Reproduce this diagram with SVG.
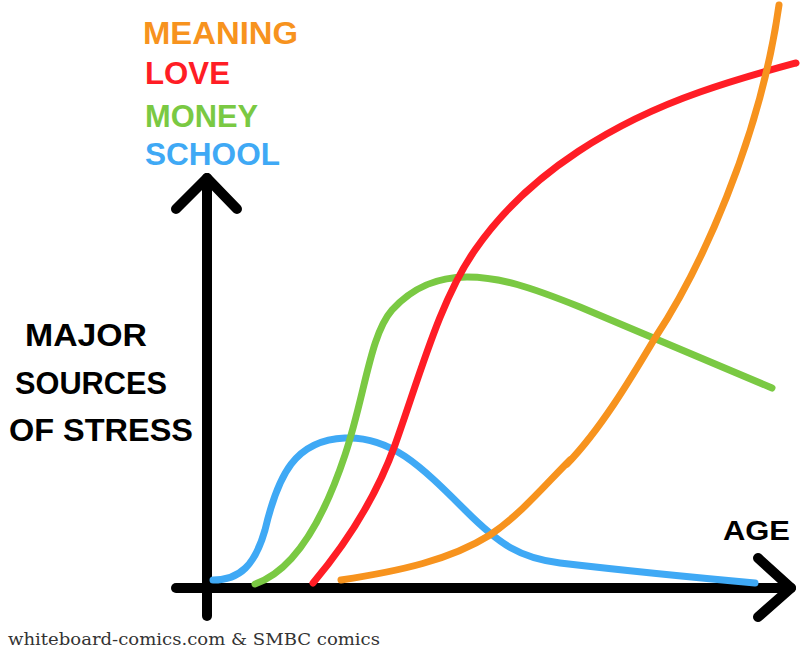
<svg xmlns="http://www.w3.org/2000/svg" width="800" height="653" viewBox="0 0 800 653">
<style>
.ax{fill:none;stroke:#000;stroke-width:10;stroke-linecap:round;stroke-linejoin:round}
.cv{fill:none;stroke-width:7;stroke-linecap:round;stroke-linejoin:round}
.hand{font-family:"Liberation Sans",Arial,sans-serif;font-weight:bold}
.foot{font-family:"DejaVu Serif","Liberation Serif",serif;font-size:17px;fill:#333}
</style>
<rect width="800" height="653" fill="#fff"/>
<g id="legend" class="hand" font-size="31">
<text x="143" y="44" fill="#F7931E" textLength="155" lengthAdjust="spacingAndGlyphs">MEANING</text>
<text x="145" y="84" fill="#FF1D25" textLength="85" lengthAdjust="spacingAndGlyphs">LOVE</text>
<text x="145" y="127" fill="#7AC943" textLength="113" lengthAdjust="spacingAndGlyphs">MONEY</text>
<text x="145" y="165" fill="#3FA9F5" textLength="135" lengthAdjust="spacingAndGlyphs">SCHOOL</text>
</g>
<g id="ylabel" class="hand" font-size="31" fill="#000">
<text x="25" y="346" textLength="122" lengthAdjust="spacingAndGlyphs">MAJOR</text>
<text x="15" y="394" textLength="152" lengthAdjust="spacingAndGlyphs">SOURCES</text>
<text x="9" y="441" textLength="184" lengthAdjust="spacingAndGlyphs">OF STRESS</text>
</g>
<g id="xlabel" class="hand" font-size="28" fill="#000">
<text x="723" y="540" textLength="67" lengthAdjust="spacingAndGlyphs">AGE</text>
</g>
<g id="axes">
<path class="ax" d="M207,178 L207,616"/>
<path class="ax" d="M176,209 L207,178 L237,209"/>
<path class="ax" d="M176,588 L791,588"/>
<path class="ax" d="M758,558 L791,588 L758,617"/>
</g>
<g id="curves">
<path id="school" class="cv" stroke="#3FA9F5" d="M213,580 C240,580 255,565 265,530 C278,475 295,440 345,438 C390,436 420,465 465,510 C500,545 520,558 560,563 C620,570 700,578 755,583"/>
<path id="money" class="cv" stroke="#7AC943" d="M255,584 C290,572 320,530 345,455 C365,395 370,335 392,310 C415,285 440,277 467,277 C500,277 530,287 580,307 L772,388"/>
<path id="love" class="cv" stroke="#FF1D25" d="M313,583 C345,545 375,500 395,445 C420,375 440,300 475,250 C530,170 620,120 700,92 C740,78 770,70 796,63"/>
<path id="meaning" class="cv" stroke="#F7931E" d="M341,580 C400,571 450,560 490,535 C520,515 545,485 570,460"/>
<path id="meaning2" class="cv" stroke="#F7931E" d="M567,464 C600,430 630,380 655,338 C700,270 760,140 779,5"/>
</g>
<text class="foot" x="8" y="645" textLength="372" lengthAdjust="spacingAndGlyphs">whiteboard-comics.com &amp; SMBC comics</text>
</svg>
